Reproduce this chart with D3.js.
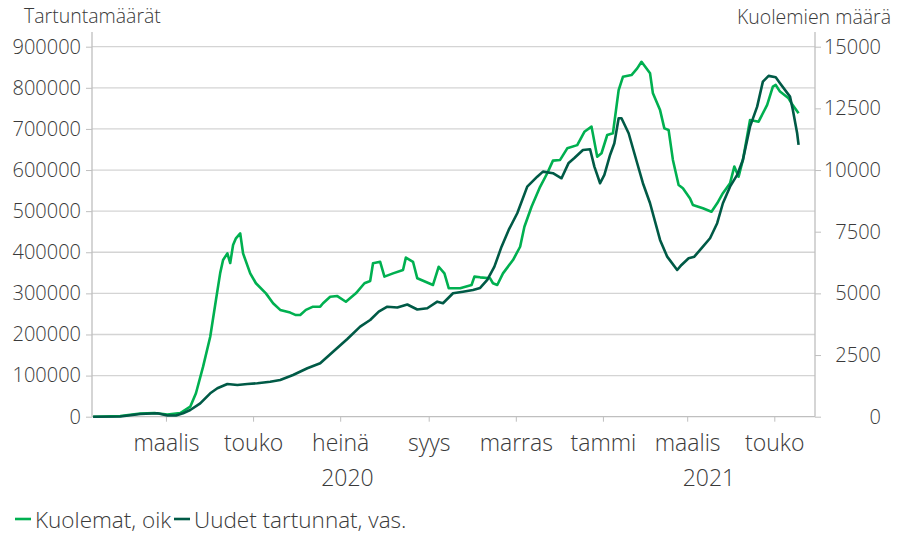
<!DOCTYPE html>
<html>
<head>
<meta charset="utf-8">
<script src="https://cdn.jsdelivr.net/npm/d3@7"></script>
<style>
  body { margin: 0; background: #fff; }
  text { font-family: "Open Sans", "Noto Sans", sans-serif; font-weight: 300; fill: #3a3a3a; }
</style>
</head>
<body>
<script>
// days counted from 1.1.2020
const deathDays = [9,28,42,52,61,70,77,81,86,91,95,98,100,103,105,107,109,112,114,119,123,130,135,140,147,151,154,158,163,168,170,175,180,186,193,199,203,205,210,213,219,226,228,233,236,247,251,255,258,266,274,276,280,287,289,292,296,303,308,311,316,322,327,331,336,341,348,353,358,362,365,369,373,377,380,386,390,393,399,401,406,409,412,415,419,422,427,429,436,442,446,450,455,458,461,464,469,475,481,485,487,490,496,498,503];
const deaths = [0,30,130,150,90,150,405,950,2030,3240,4730,5830,6350,6620,6230,6960,7230,7430,6620,5810,5410,5000,4600,4330,4220,4120,4120,4330,4460,4460,4600,4860,4890,4660,5000,5410,5500,6220,6280,5680,5810,5950,6450,6280,5610,5340,6080,5810,5210,5210,5340,5680,5650,5610,5410,5340,5810,6350,6890,7700,8510,9320,9870,10380,10410,10880,11010,11550,11760,10540,10680,11420,11490,13240,13780,13850,14120,14390,13920,13110,12430,11690,11620,10410,9390,9260,8850,8580,8450,8310,8650,9060,9460,10140,9730,10410,12030,11960,12640,13380,13450,13180,12910,12710,12300];

const caseDays = [9,28,42,54,61,67,72,77,84,91,96,103,110,117,124,133,140,149,159,168,177,187,196,203,209,215,222,229,236,243,250,254,261,268,275,280,285,290,295,300,306,313,320,324,331,337,342,346,352,357,360,364,367,371,374,377,379,384,390,394,399,406,411,418,421,426,430,436,441,446,450,455,460,464,469,474,478,482,487,490,497,499,502,503];
const cases = [0,500,6500,8300,2900,2900,8300,16300,32600,56900,69100,79600,77100,79600,81300,85200,89300,101500,117800,129900,158100,189000,219000,235300,255500,267600,265700,273000,260800,263700,279800,275900,300200,304100,308300,313100,332600,365000,413600,454300,494900,559600,583900,596100,592200,580000,617300,629400,648900,650600,608300,567900,588100,636700,665200,726000,726000,689500,616500,567900,519200,429900,389300,356900,369100,385400,389300,413600,434100,470600,519200,559600,588100,624500,705600,754200,815100,829000,825800,811200,778600,746200,689500,661000];

const leftTicks = [0,100000,200000,300000,400000,500000,600000,700000,800000,900000];
const rightTicks = [0,2500,5000,7500,10000,12500,15000];
const monthNames = ["tammi","helmi","maalis","huhti","touko","kesä","heinä","elo","syys","loka","marras","joulu"];
const years = [2020, 2021];

const seriesNames = ["Kuolemat, oik", "Uudet tartunnat, vas."];
const colors = ["#00b050", "#005a46"];

const W = 897, H = 534;
const plotLeft = 92, plotRight = 815, plotTop = 46.7, plotBottom = 416.7;

const day0 = new Date(2020, 0, 1);
const toDate = d => d3.timeDay.offset(day0, d);
const startDate = new Date(2020, 0, 9, 5);
const endDate = new Date(2021, 4, 29, 12);

const svg = d3.select('body').append('svg')
    .attr('width', W)
    .attr('height', H);

const x = d3.scaleTime().domain([startDate, endDate]).range([plotLeft, plotRight]);
const yL = d3.scaleLinear().domain([0, 900000]).range([plotBottom, plotTop]);
const yR = d3.scaleLinear().domain([0, 15000]).range([plotBottom, plotTop]);

// gridlines
svg.append('g').selectAll('line')
    .data(leftTicks.slice(1))
    .enter().append('line')
    .attr('x1', plotLeft).attr('x2', plotRight)
    .attr('y1', d => yL(d)).attr('y2', d => yL(d))
    .attr('stroke', '#d4d4d4')
    .attr('stroke-width', 1.3);

// left axis
const yAxisL = svg.append('g')
    .attr('transform', `translate(${plotLeft},0)`)
    .call(d3.axisLeft(yL).tickValues(leftTicks).tickSize(6).tickPadding(5).tickFormat(d3.format('d')));
yAxisL.select('.domain').remove();
yAxisL.selectAll('line').attr('stroke', '#bfbfbf');
yAxisL.selectAll('text').style('font-size', '20px');

// right axis
const yAxisR = svg.append('g')
    .attr('transform', `translate(${plotRight},0)`)
    .call(d3.axisRight(yR).tickValues(rightTicks).tickSize(6).tickFormat(d3.format('d')));
yAxisR.select('.domain').remove();
yAxisR.selectAll('line').attr('stroke', '#bfbfbf');
yAxisR.selectAll('text').attr('x', 66).attr('text-anchor', 'end').style('font-size', '20px');

// x axis
const xAxis = svg.append('g')
    .attr('transform', `translate(0,${plotBottom})`)
    .call(d3.axisBottom(x).ticks(d3.timeMonth.every(2)).tickSize(5).tickPadding(18)
      .tickFormat(d => monthNames[d.getMonth()]));
xAxis.select('.domain').remove();
xAxis.selectAll('line').attr('stroke', '#bfbfbf');
xAxis.selectAll('text').attr('dy', '0.5em').style('font-size', '23px');

// axis lines
svg.append('line').attr('x1', plotLeft).attr('x2', plotLeft).attr('y1', 32).attr('y2', plotBottom)
    .attr('stroke', '#bfbfbf').attr('stroke-width', 1.3);
svg.append('line').attr('x1', plotRight).attr('x2', plotRight).attr('y1', 32).attr('y2', plotBottom)
    .attr('stroke', '#bfbfbf').attr('stroke-width', 1.3);
svg.append('line').attr('x1', plotLeft).attr('x2', plotRight).attr('y1', plotBottom).attr('y2', plotBottom)
    .attr('stroke', '#bfbfbf').attr('stroke-width', 1.3);

// year labels
svg.append('g').selectAll('text')
    .data(years)
    .enter().append('text')
    .attr('x', yr => {
      const a = d3.max([startDate, new Date(yr, 0, 1)]);
      const b = d3.min([endDate, new Date(yr + 1, 0, 1)]);
      return (x(a) + x(b)) / 2;
    })
    .attr('y', 486)
    .attr('text-anchor', 'middle')
    .style('font-size', '23px')
    .text(d => d);

// lines
const deathData = deathDays.map((d, i) => [toDate(d), deaths[i]]);
const caseData = caseDays.map((d, i) => [toDate(d), cases[i]]);

svg.append('path')
    .datum(deathData)
    .attr('fill', 'none')
    .attr('stroke', colors[0])
    .attr('stroke-width', 2.6)
    .attr('stroke-linejoin', 'round')
    .attr('d', d3.line().x(d => x(d[0])).y(d => yR(d[1])));

svg.append('path')
    .datum(caseData)
    .attr('fill', 'none')
    .attr('stroke', colors[1])
    .attr('stroke-width', 2.6)
    .attr('stroke-linejoin', 'round')
    .attr('d', d3.line().x(d => x(d[0])).y(d => yL(d[1])));

// axis titles
svg.append('text').attr('x', 24).attr('y', 23).style('font-size', '19.5px').text('Tartuntamäärät');
svg.append('text').attr('x', 891).attr('y', 24).attr('text-anchor', 'end').style('font-size', '19.5px').text('Kuolemien määrä');

// legend
const legendX = [15, 174];
const lg = svg.append('g').selectAll('g')
    .data(seriesNames)
    .enter().append('g')
    .attr('transform', (d, i) => `translate(${legendX[i]},519)`);
lg.append('line').attr('x1', 0).attr('x2', 16).attr('stroke', (d, i) => colors[i]).attr('stroke-width', 2.6);
lg.append('text').attr('x', 20).attr('y', 8.5).style('font-size', '22.5px').text(d => d);
</script>
</body>
</html>
